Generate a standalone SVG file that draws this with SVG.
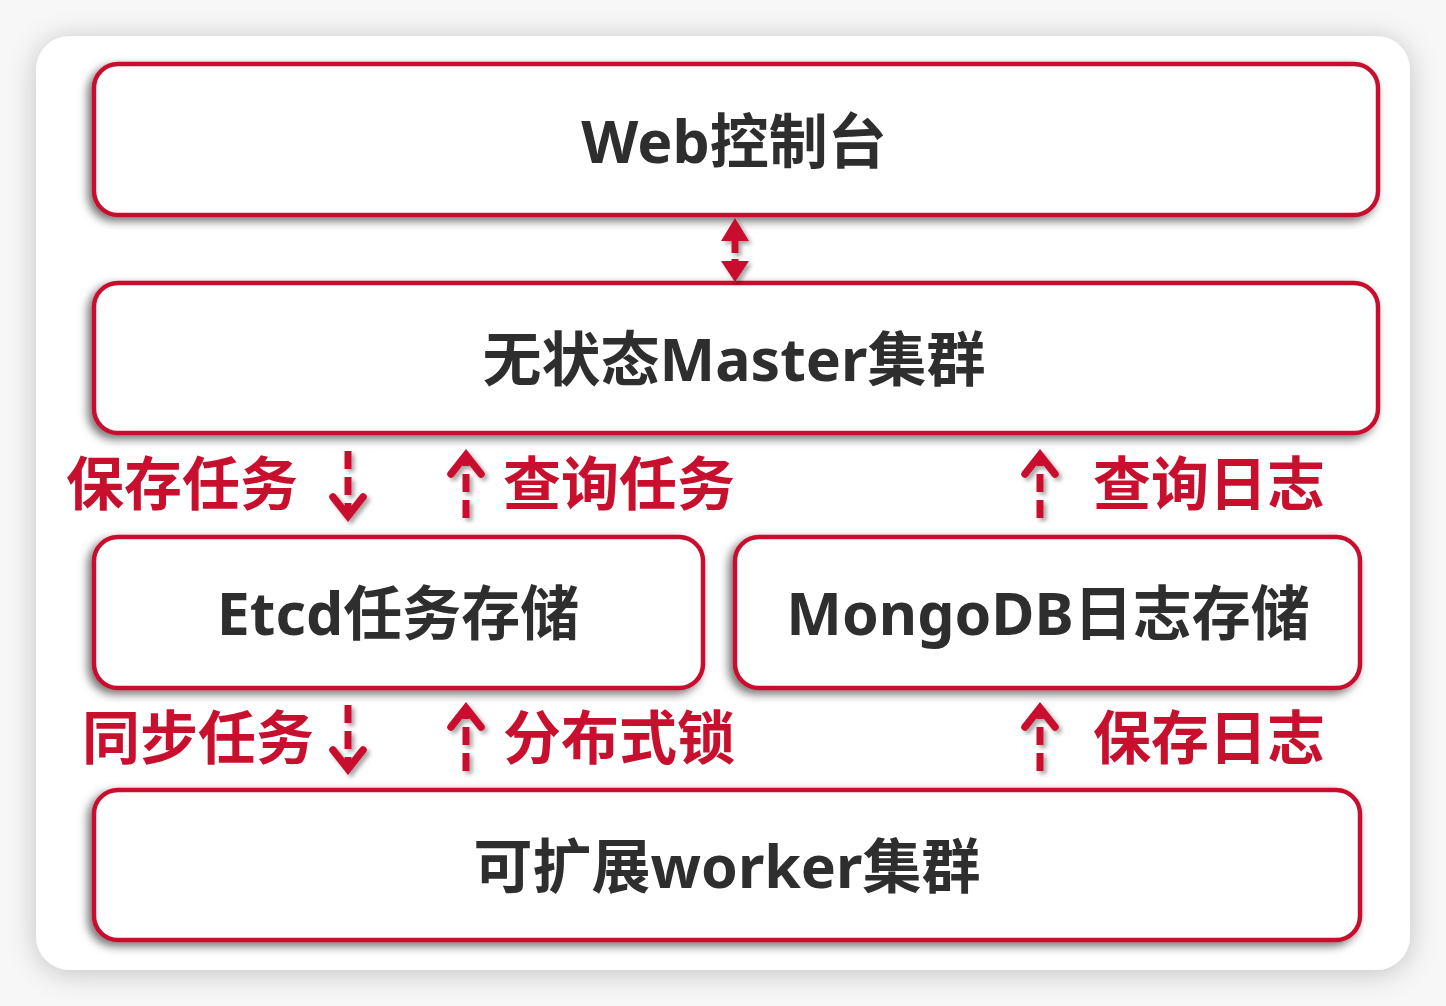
<svg xmlns="http://www.w3.org/2000/svg" width="1446" height="1006" viewBox="0 0 1446 1006">
<defs>
<filter id="cardShadow" x="-10%" y="-10%" width="120%" height="120%"><feDropShadow dx="0" dy="3" stdDeviation="14" flood-color="#000" flood-opacity="0.22"/></filter>
<filter id="boxShadow" x="-5%" y="-20%" width="110%" height="140%"><feDropShadow dx="-4" dy="4" stdDeviation="5" flood-color="#000" flood-opacity="0.55"/></filter>
<filter id="arrShadow" x="-50%" y="-20%" width="200%" height="140%"><feDropShadow dx="3" dy="3" stdDeviation="2" flood-color="#000" flood-opacity="0.35"/></filter>
</defs>
<style>
.box{fill:#fff;stroke:#c8102e;stroke-width:4.5;filter:url(#boxShadow)}
.t{font-family:"Noto Sans","Noto Sans CJK SC",sans-serif;font-weight:700;fill:#2e2e2e;font-size:59px;text-anchor:middle;dominant-baseline:central}
.lbl{font-family:"Noto Sans CJK SC",sans-serif;font-weight:700;fill:#c8102e;font-size:58px;dominant-baseline:central}
.dash{stroke:#c8102e;stroke-width:7;stroke-dasharray:18 8;fill:none}
.head{stroke:#c8102e;stroke-width:7.5;fill:none;stroke-linecap:round;stroke-linejoin:miter}
</style>
<rect x="0" y="0" width="1446" height="1006" fill="#f7f7f7"/>
<rect x="36" y="36" width="1374" height="934" rx="34" fill="#fff" filter="url(#cardShadow)"/>
<g id="web"><rect class="box" x="94" y="64" width="1284" height="151" rx="24"/><text class="t" x="734" y="140">Web控制台</text></g>
<g id="master"><rect class="box" x="94" y="283" width="1284" height="150" rx="24"/><text class="t" x="734" y="358">无状态Master集群</text></g>
<g id="etcd"><rect class="box" x="94" y="537" width="609" height="151" rx="24"/><text class="t" x="398" y="612">Etcd任务存储</text></g>
<g id="mongo"><rect class="box" x="735" y="537" width="625" height="151" rx="24"/><text class="t" x="1048" y="612">MongoDB日志存储</text></g>
<g id="worker"><rect class="box" x="94" y="790" width="1266" height="150" rx="24"/><text class="t" x="727" y="865">可扩展worker集群</text></g>
<g id="connectors" filter="url(#arrShadow)">
<path d="M735 218 L721 241 L749 241 Z" fill="#c8102e"/>
<line x1="735" y1="239" x2="735" y2="253" stroke="#c8102e" stroke-width="7"/>
<line x1="735" y1="259" x2="735" y2="266" stroke="#c8102e" stroke-width="7"/>
<path d="M735 282 L721 261 L749 261 Z" fill="#c8102e"/>
<g id="c1"><path class="dash" d="M348 451 V515"/><path class="head" d="M333 497 L348 516 L363 497"/></g>
<g id="c2"><path class="dash" d="M466 518 V456"/><path class="head" d="M451 474 L466 455 L481 474"/></g>
<g id="c3"><path class="dash" d="M1040 518 V456"/><path class="head" d="M1025 474 L1040 455 L1055 474"/></g>
<g id="c4"><path class="dash" d="M348 705 V768"/><path class="head" d="M333 750 L348 769 L363 750"/></g>
<g id="c5"><path class="dash" d="M466 771 V709"/><path class="head" d="M451 727 L466 708 L481 727"/></g>
<g id="c6"><path class="dash" d="M1040 771 V709"/><path class="head" d="M1025 727 L1040 708 L1055 727"/></g>
</g>
<text class="lbl" x="66" y="480">保存任务</text>
<text class="lbl" x="503" y="480">查询任务</text>
<text class="lbl" x="1093" y="480">查询日志</text>
<text class="lbl" x="82" y="734">同步任务</text>
<text class="lbl" x="503" y="734">分布式锁</text>
<text class="lbl" x="1093" y="734">保存日志</text>
</svg>
